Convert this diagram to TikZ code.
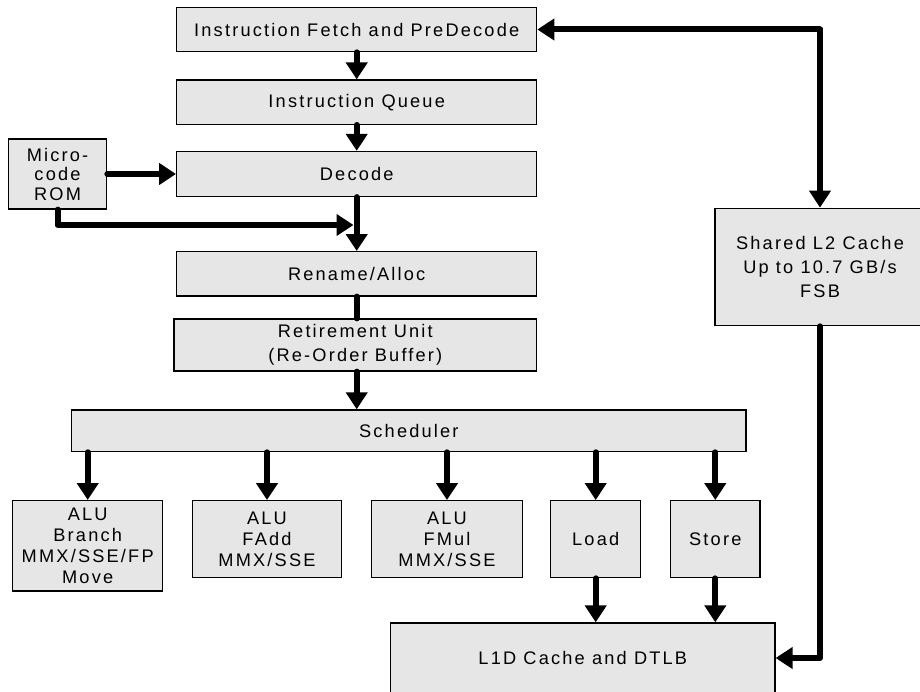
\documentclass[tikz,border=0pt]{standalone}
\usepackage{fontspec}
\setmainfont{Liberation Sans}[LetterSpace=12]
\usepackage{tikz}
\usetikzlibrary{arrows.meta}
\definecolor{boxfill}{RGB}{230,230,230}
\tikzset{
  unit/.style={draw=black, line width=1.3bp, fill=boxfill, inner sep=0pt,
    align=center, font=\fontsize{18.2bp}{21bp}\selectfont},
  flow/.style={line width=6bp, line cap=round, line join=round,
    -{Triangle[length=17bp,width=21bp]}},
  bus/.style={line width=6bp, line cap=round, line join=round}
}
\begin{document}
\begin{tikzpicture}[x=1bp, y=-1bp]
      \useasboundingbox (0,0) rectangle (920,692);
      \node[unit, minimum width=360bp, minimum height=44.4bp] (fetch) at (356.7,29.5) {Instruction Fetch and PreDecode};
      \node[unit, minimum width=360bp, minimum height=44.3bp] (queue) at (356.7,102.2) {Instruction Queue};
      \node[unit, minimum width=360bp, minimum height=45bp] (decode) at (356.7,174) {Decode};
      \node[unit, minimum width=98.4bp, minimum height=70bp, font=\fontsize{18.2bp}{19.5bp}\selectfont] (rom) at (57.5,174) {Micro-\\code\\ROM};
      \node[unit, minimum width=360bp, minimum height=44.3bp] (rename) at (356.7,273.8) {Rename/Alloc};
      \node[unit, minimum width=362.7bp, minimum height=52bp, font=\fontsize{18.2bp}{24.5bp}\selectfont] (retire) at (355.3,345) {Retirement Unit\\(Re-Order Buffer)};
      \node[unit, minimum width=674.3bp, minimum height=41.7bp] (sched) at (408.8,430.8) {Scheduler};
      \node[unit, minimum width=150bp, minimum height=90.3bp] (alu1) at (87.7,545.8) {ALU\\Branch\\MMX/SSE/FP\\Move};
      \node[unit, minimum width=149.4bp, minimum height=77bp] (alu2) at (267,539.2) {ALU\\FAdd\\MMX/SSE};
      \node[unit, minimum width=150.6bp, minimum height=77bp] (alu3) at (447,539.2) {ALU\\FMul\\MMX/SSE};
      \node[unit, minimum width=90bp, minimum height=77bp] (load) at (595.7,539.2) {Load};
      \node[unit, minimum width=89.3bp, minimum height=77bp] (store) at (715.3,539.2) {Store};
      \node[unit, minimum width=384.3bp, minimum height=70bp] (l1d) at (582.8,658) {L1D Cache and DTLB};
      \node[unit, minimum width=210bp, minimum height=117.4bp, font=\fontsize{18.2bp}{24bp}\selectfont] (l2) at (820,267) {Shared L2 Cache\\Up to 10.7 GB/s\\FSB};
      \coordinate (merge) at (353.5,225);
      \draw [flow] (fetch.south) -- (queue.north);
      \draw [flow] (queue.south) -- (decode.north);
      \draw [flow] (rom.east) -- (decode.west);
      \draw [flow] (decode.south) -- (rename.north);
      \draw [flow] (rom.south) |- (merge);
      \draw [bus]  (rename.south) -- (retire.north -| rename.south);
      \draw [flow] (retire.south -| rename.south) -- (sched.north -| rename.south);
      \foreach \n in {alu1,alu2,alu3,load,store}
        \draw [flow] (sched.south -| \n.north) -- (\n.north);
      \draw [flow] (load.south) -- (l1d.north -| load.south);
      \draw [flow] (store.south) -- (l1d.north -| store.south);
      \draw [flow, {Triangle[length=17bp,width=21bp]}-{Triangle[length=17bp,width=21bp]}] (fetch.east) -| (l2.north);
      \draw [flow] (l2.south) |- (l1d.east);
    \end{tikzpicture}
\end{document}
